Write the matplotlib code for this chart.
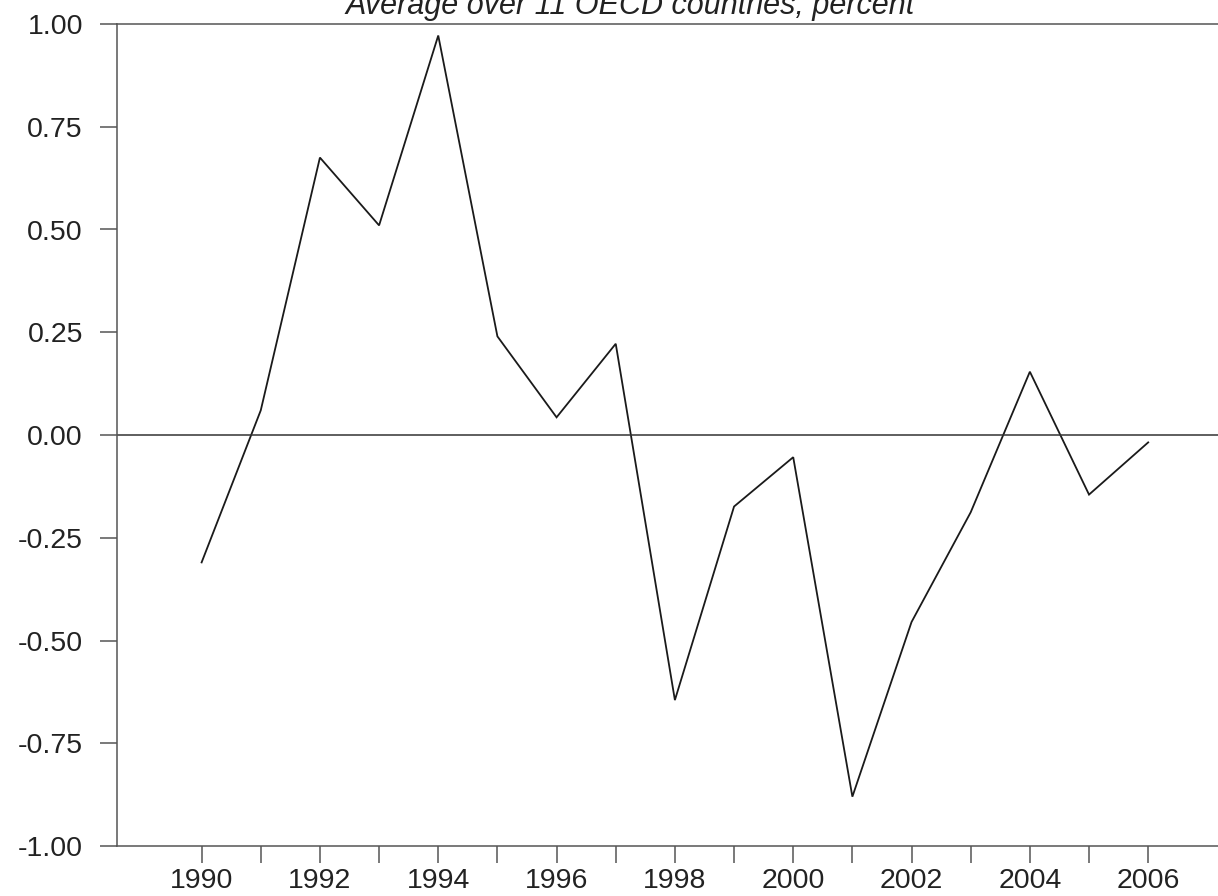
import numpy as np
import matplotlib.pyplot as plt

plt.rcParams['font.family'] = ['Liberation Sans', 'DejaVu Sans']

years = np.arange(1990, 2007)
values = [-0.31, 0.06, 0.675, 0.51, 0.972, 0.24, 0.043, 0.222, -0.645,
          -0.174, -0.054, -0.880, -0.455, -0.188, 0.154, -0.145, -0.018]
y_ticks = [1.00, 0.75, 0.50, 0.25, 0.00, -0.25, -0.50, -0.75, -1.00]
x_labels = [str(y) if y % 2 == 0 else '' for y in years]
title = 'Average over 11 OECD countries, percent'

fig = plt.figure(figsize=(12.18, 8.96), dpi=100)
ax = fig.add_axes([117 / 1218, 1 - 846 / 896, 1 - 117 / 1218, (846 - 24) / 896])

ax.plot(years, values, color='#1a1a1a', lw=1.3, solid_joinstyle='miter')
ax.axhline(0, color='#333333', lw=1.1)

ax.set_xlim(1988.57, 2007.18)
ax.set_ylim(-1, 1)

ax.set_yticks(y_ticks)
ax.set_yticklabels(['%.2f' % v for v in y_ticks])
ax.set_xticks(years)
ax.set_xticklabels(x_labels)

ax.spines['right'].set_visible(False)
for s in ['left', 'top', 'bottom']:
    ax.spines[s].set_color('#555555')
    ax.spines[s].set_linewidth(1.1)

ax.tick_params(axis='y', direction='out', length=12, width=1.1, color='#555555',
               labelsize=20.5, pad=12.5, labelcolor='#222222')
ax.tick_params(axis='x', direction='out', length=12, width=1.1, color='#555555',
               labelsize=20.5, pad=4, labelcolor='#222222')

fig.text(630 / 1218, 1 - 14 / 896, title, ha='center', va='baseline',
         fontsize=22, style='italic', color='#222222')

fig.savefig('out.png', dpi=100)
